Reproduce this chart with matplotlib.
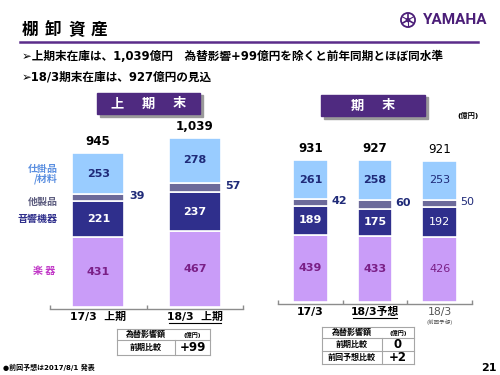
import matplotlib
matplotlib.use('Agg')
import matplotlib.pyplot as plt
from matplotlib.patches import Rectangle, Circle
from matplotlib.transforms import blended_transform_factory
import numpy as np

plt.rcParams['font.family'] = ['DejaVu Sans', 'Noto Sans CJK JP']

# ---------------- data ----------------
h1_labels = ['17/3  上期', '18/3  上期']
h1_inst = [431, 467]
h1_audio = [221, 237]
h1_other = [39, 57]
h1_wip = [253, 278]
h1_total = ['945', '1,039']

fy_labels = ['17/3', '18/3予想', '18/3']
fy_inst = [439, 433, 426]
fy_audio = [189, 175, 192]
fy_other = [42, 60, 50]
fy_wip = [261, 258, 253]
fy_total = ['931', '927', '921']

seg_names = ['仕掛品\n/材料', '他製品', '音響機器', '楽 器']
fx_h1_rows = ['前期比較']
fx_h1_vals = ['+99']
fx_fy_rows = ['前期比較', '前回予想比較']
fx_fy_vals = ['0', '+2']

# ---------------- style ----------------
C_INST = '#C99CF8'
C_AUDIO = '#2F2F8C'
C_OTHER = '#6C6A9A'
C_WIP = '#99CCFF'
C_PURPLE = '#4F2A80'
T_INST = '#7A1F86'
T_NAVY = '#1F2A78'

W, H = 500, 375
fig = plt.figure(figsize=(5, 3.75), dpi=100)


def fx(x):
    return x / W


def fy(y):
    return 1 - y / H


def ftext(x, y, s, **kw):
    fig.text(fx(x), fy(y), s, **kw)


# ---------------- header ----------------
for i, ch in enumerate('棚卸資産'):
    ftext(22 + 23 * i, 30, ch, fontsize=12, fontweight='bold', va='center', ha='left',
          family=['Noto Sans CJK JP'])
fig.add_artist(plt.Line2D([fx(20), fx(478)], [fy(41.5), fy(41.5)], color='#5B2C8A', lw=1.8))

ftext(22, 57, '➢上期末在庫は、1,039億円　為替影響+99億円を除くと前年同期とほぼ同水準',
      fontsize=8.4, fontweight='bold', va='center', ha='left')
ftext(22, 77, '➢18/3期末在庫は、927億円の見込',
      fontsize=8.4, fontweight='bold', va='center', ha='left')

# logo
ftext(487, 20, 'YAMAHA', fontsize=11, fontweight='bold', color='#4B1E78',
      family=['Roboto'], ha='right', va='center')
lax = fig.add_axes([fx(400), fy(28), fx(16), 16 / H])
lax.set_xlim(-1, 1)
lax.set_ylim(-1, 1)
lax.set_aspect('equal')
lax.axis('off')
lax.add_patch(Circle((0, 0), 0.88, fill=False, ec='#4B1E78', lw=1.3))
for ang in [90, 210, 330]:
    a = np.deg2rad(ang)
    lax.plot([0, 0.75 * np.cos(a)], [0, 0.75 * np.sin(a)], color='#4B1E78', lw=1.2)
    lax.plot([0, -0.75 * np.cos(a)], [0, -0.75 * np.sin(a)], color='#4B1E78', lw=0.8)
lax.add_patch(Circle((0, 0), 0.2, color='#4B1E78'))


def header_box(x0, x1, y0, y1, chars, spacing):
    fig.add_artist(Rectangle((fx(x0 + 2.5), fy(y1 + 2.5)), fx(x1 - x0), (y1 - y0) / H,
                             color='#9A9A9A', zorder=1))
    fig.add_artist(Rectangle((fx(x0), fy(y1)), fx(x1 - x0), (y1 - y0) / H,
                             color=C_PURPLE, zorder=2))
    cx = (x0 + x1) / 2
    n = len(chars)
    for i, ch in enumerate(chars):
        ftext(cx + (i - (n - 1) / 2) * spacing, (y0 + y1) / 2, ch, color='white',
              fontsize=9.5, fontweight='bold', ha='center', va='center', zorder=3,
              family=['Noto Sans CJK JP'])


header_box(97, 200, 93, 114, '上期末', 31)
header_box(321, 425, 95, 116, '期末', 31)
ftext(468, 115, '(億円)', fontsize=5.2, fontweight='bold', ha='center', va='center')


# ---------------- bar panels ----------------
def panel(left, right, y0pix, scale, labels, inst, audio, other, wip, totals, light_last):
    ymin = -1.5 / scale
    ytop = 1100
    bottom_pix = y0pix + 1.5
    height_pix = (ytop - ymin) * scale
    ax = fig.add_axes([fx(left), fy(bottom_pix), fx(right - left), height_pix / H])
    n = len(labels)
    x = np.arange(n)
    ax.set_xlim(-0.5, n - 0.5)
    ax.set_ylim(ymin, ytop)
    wdt = 0.54
    b = np.zeros(n)
    for vals, col in [(inst, C_INST), (audio, C_AUDIO), (other, C_OTHER), (wip, C_WIP)]:
        ax.bar(x, vals, width=wdt, bottom=b, color=col, edgecolor='white', linewidth=1.2)
        b = b + np.array(vals)
    for spine in ['top', 'left', 'right']:
        ax.spines[spine].set_visible(False)
    ax.spines['bottom'].set_color('#8C8C8C')
    ax.spines['bottom'].set_linewidth(1.0)
    ax.set_yticks([])
    ax.set_xticks(np.arange(n + 1) - 0.5)
    ax.set_xticklabels([])
    ax.tick_params(axis='x', direction='in', length=3, color='#8C8C8C', width=1.0)
    ax.patch.set_alpha(0)

    for i in range(n):
        weak = light_last and i == n - 1
        fw = 'normal' if weak else 'bold'
        ax.text(i, inst[i] / 2, str(inst[i]), ha='center', va='center', color=T_INST,
                fontsize=8, fontweight=fw)
        ax.text(i, inst[i] + audio[i] / 2, str(audio[i]), ha='center', va='center',
                color='white', fontsize=8, fontweight=fw)
        ax.text(i + wdt / 2 + 0.05, inst[i] + audio[i] + other[i] / 2 + 8, str(other[i]),
                ha='left', va='center', color=T_NAVY, fontsize=8, fontweight=fw)
        base = inst[i] + audio[i] + other[i]
        ax.text(i, base + wip[i] / 2, str(wip[i]), ha='center', va='center', color=T_NAVY,
                fontsize=8, fontweight=fw)
        ax.annotate(totals[i], (i, base + wip[i]), xytext=(0, 3.5), textcoords='offset points',
                    ha='center', va='bottom', fontsize=8.6, fontweight=fw, color='black')
    return ax


ax1 = panel(50, 243, 307, 0.163, h1_labels, h1_inst, h1_audio, h1_other, h1_wip, h1_total, False)
ax2 = panel(278, 472, 302, 0.153, fy_labels, fy_inst, fy_audio, fy_other, fy_wip, fy_total, True)

tr1 = blended_transform_factory(ax1.transData, fig.transFigure)
tr2 = blended_transform_factory(ax2.transData, fig.transFigure)

for i, lab in enumerate(h1_labels):
    ax1.text(i, fy(317), lab, transform=tr1, ha='center', va='center', fontsize=7.8,
             fontweight='bold')
ax1.plot([0.73, 1.27], [fy(322.5), fy(322.5)], transform=tr1, color='black', lw=0.8,
         clip_on=False)

ax2.text(0, fy(312), fy_labels[0], transform=tr2, ha='center', va='center', fontsize=7.8,
         fontweight='bold')
ax2.text(1, fy(312), fy_labels[1], transform=tr2, ha='center', va='center', fontsize=7.8,
         fontweight='bold')
ax2.plot([0.66, 1.34], [fy(318), fy(318)], transform=tr2, color='black', lw=0.8, clip_on=False)
ax2.text(2, fy(312), fy_labels[2], transform=tr2, ha='center', va='center', fontsize=7.8,
         color='#555555')
ax2.text(2, fy(322), '(前回予想)', transform=tr2, ha='center', va='center', fontsize=4,
         color='#555555')

# segment legend labels (left)
seg_pos = [(58, 174, '#5B8FE0'), (58, 202, '#5E5E80'), (58, 219, '#2F2F8C'), (55, 271, '#C23BC8')]
for name, (xx, yy, col) in zip(seg_names, seg_pos):
    ftext(xx, yy, name, fontsize=7.2, fontweight='bold', color=col, ha='right', va='center',
          family=['Noto Sans CJK JP', 'DejaVu Sans'], linespacing=1.05)


# ---------------- tables ----------------
def hline(x0, x1, y):
    fig.add_artist(plt.Line2D([fx(x0), fx(x1)], [fy(y), fy(y)], color='#A6A6A6', lw=0.8))


def vline(x, y0, y1):
    fig.add_artist(plt.Line2D([fx(x), fx(x)], [fy(y0), fy(y1)], color='#A6A6A6', lw=0.8))


def table(x0, x1, xs, rows_y, rows, vals):
    for y in rows_y:
        hline(x0, x1, y)
    vline(x0, rows_y[0], rows_y[-1])
    vline(x1, rows_y[0], rows_y[-1])
    vline(xs, rows_y[1], rows_y[-1])
    ymid = (rows_y[0] + rows_y[1]) / 2
    ftext((x0 + xs) / 2, ymid, '為替影響額', fontsize=5.8, fontweight='bold', ha='center',
          va='center', family=['Noto Sans CJK JP'])
    ftext((xs + x1) / 2, ymid, '(億円)', fontsize=4.3, fontweight='bold', ha='center',
          va='center')
    for k, (r, v) in enumerate(zip(rows, vals)):
        ym = (rows_y[k + 1] + rows_y[k + 2]) / 2
        ftext((x0 + xs) / 2, ym, r, fontsize=5.8, fontweight='bold', ha='center', va='center',
              family=['Noto Sans CJK JP'])
        ftext((xs + x1) / 2, ym, v, fontsize=8.5, fontweight='bold', ha='center', va='center')


table(117, 210, 175, [329, 340, 355], fx_h1_rows, fx_h1_vals)
table(322, 414, 382, [327, 338, 351, 364], fx_fy_rows, fx_fy_vals)

# footer
ftext(3, 367, '●前回予想は2017/8/1 発表', fontsize=5.0, fontweight='bold', ha='left', va='center')
ftext(497, 368, '21', fontsize=8, fontweight='bold', ha='right', va='center')

fig.savefig('out.png', dpi=100)
